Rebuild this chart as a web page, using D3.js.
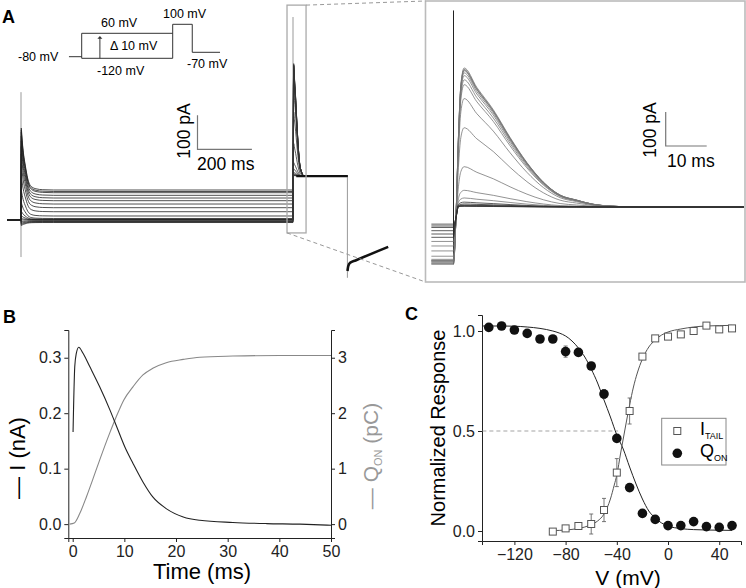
<!DOCTYPE html>
<html><head><meta charset="utf-8">
<script src="https://cdn.jsdelivr.net/npm/d3@7"></script>
<style>body{margin:0;background:#fff} svg{display:block}</style>
</head><body>
<script>
// ================= DATA =================
// Panel A – voltage protocol (schematic)
const protoTimes = [-140, 0, 1000, 1215, 1520];      // ms (schematic)
const protoHold = -80, protoLow = -120, protoHigh = 60, protoTail = 100, protoPost = -70; // mV
// Panel A – test potentials and currents (pA)
const testV   = [-120,-110,-100,-90,-80,-70,-60,-50,-40,-30,-20,-10,0,10,20,30,40,50,60];
const steadyI = [-7.4,-5.9,-4.4,-2.4,0,0.6,0.9,2,4.4,11.8,24.4,36.2,47,56.8,64.7,72.6,80.3,83.8,88.2];
const onPeak  = [-9,-7,-5,-3,0,4,12,24,47,76,106,129,147,159,168,174,178,181,182];
const onT     = [1, 3, 6, 10, 15, 20, 25, 30, 40, 55, 80, 120];          // ms after step
const onF     = [1, 0.88, 0.72, 0.56, 0.42, 0.29, 0.18, 0.11, 0.05, 0.02, 0.005, 0];
// tail at +100 mV
const tailSteady = 129, tailDip = -26, tailAmp = 331;                      // pA
const tailFrac = [1.0,0.99,0.985,0.98,0.965,0.945,0.915,0.88,0.78,0.57,0.29,0.12,0.065,0.035,0.022,0.014,0.01,0.007,0.005];
const tailT   = [1.2, 1.8, 2.6, 5.7, 9.7, 13.8, 17.9, 21.9, 26, 30, 34, 38, 45];
const tailF   = [0.5, 0.88, 1.0, 0.86, 0.70, 0.50, 0.32, 0.18, 0.086, 0.05, 0.02, 0.007, 0];
// -70 mV segment (shared by all traces)
const postT = [1200.3, 1203, 1210, 1230, 1350];
const postI = [-150, -136, -126, -119, -79];
// capacitive artifacts [time, low pA, high pA]
const artifacts = [[0,-109,376],[1000,129,597],[1200,-170,129]];
// zoom window shown in the inset
const zoomWin = {t0: 978, t1: 1048, i0: -38, i1: 632};

// Panel B
const bT = [0.07,0.4,0.7,1.17,2.0,3.3,5.2,7.2,8.5,10.1,11.7,13.6,15.5,18.1,21.4,24.6,31,37.5,44,50];
const bI = [0.166,0.284,0.308,0.319,0.308,0.284,0.248,0.206,0.176,0.139,0.109,0.076,0.049,0.028,0.013,0.007,0.003,0.001,0,-0.002];
const qT = [-0.6,0.3,1.36,2.65,3.94,5.2,7.16,8.45,9.9,11.7,13.6,15.5,18.1,21.4,24.6,31,40,50];
const qV = [0,0.02,0.19,0.49,0.82,1.15,1.64,1.94,2.24,2.48,2.69,2.81,2.91,2.97,3.01,3.03,3.04,3.04];
const bXTicks = [0,10,20,30,40,50];
const bYTicks = [0,0.1,0.2,0.3];
const bY2Ticks = [0,1,2,3];

// Panel C
const qonV   = [-140,-130,-120,-110,-100,-90,-80,-70,-60,-50,-40,-30,-20,-10,0,10,20,30,40,50];
const qonVal = [1.018,1.025,1.005,0.988,0.96,0.96,0.897,0.893,0.825,0.685,0.463,0.217,0.088,0.058,0.027,0.027,0.047,0.022,0.018,0.027];
const qonErr = [0.005,0.005,0.008,0.008,0.006,0.006,0.028,0.012,0.018,0.022,0.015,0.012,0.008,0.01,0.008,0.006,0.012,0.004,0.005,0.006];
const itV    = [-90,-80,-70,-60,-50,-40,-30,-20,-10,0,10,20,30,40,50];
const itVal  = [-0.003,0.013,0.025,0.035,0.105,0.292,0.6,0.872,0.963,0.972,0.983,1.0,1.027,1.008,1.013];
const itErr  = [0.005,0.008,0.01,0.05,0.058,0.07,0.065,0.012,0.008,0.01,0.012,0.008,0.006,0.006,0.006];
const qFitV = [-145,-130,-120,-110,-100,-90,-85,-80,-75,-70,-65,-60,-55,-50,-45,-40,-35,-30,-25,-20,-15,-10,-5,0,10,20,30,40,50];
const qFitY = [1.025,1.025,1.024,1.02,1.013,1.0,0.99,0.975,0.95,0.915,0.87,0.81,0.74,0.655,0.57,0.48,0.41,0.32,0.235,0.16,0.1,0.065,0.04,0.025,0.012,0.007,0.005,0.004,0.003];
const iFitV = [-90,-85,-75,-65,-60,-55,-50,-45,-42,-40,-37,-35,-33,-30,-27,-24,-20,-15,-10,-5,0,10,20,30,50];
const iFitY = [0.002,0.003,0.008,0.02,0.032,0.05,0.085,0.16,0.23,0.28,0.39,0.46,0.53,0.63,0.72,0.79,0.86,0.92,0.955,0.98,0.995,1.01,1.02,1.025,1.028];
const halfV = [-145, -39];
const cXTicks = [-120,-80,-40,0,40];
const cYTicks = [0,0.5,1.0];

// ================= DRAW =================
const FONT = '"Liberation Sans", Arial, Helvetica, sans-serif';
const svg = d3.select("body").append("svg").attr("width",746).attr("height",588)
  .attr("font-family", FONT);

function txt(x,y,s,size,opts={}) {
  const t = svg.append("text").attr("x",x).attr("y",y).attr("font-size",size).text(s);
  for (const k in opts) t.attr(k, opts[k]);
  return t;
}
const bold = {"font-weight":"bold"};
txt(2,23,"A",18,bold);
txt(3,323,"B",18,bold);
txt(405,320,"C",18,bold);

// ---- protocol
const xP = d3.scaleLinear().domain([0,1000]).range([81.7,172.7]);
const yP = d3.scaleLinear().domain([-120,-80,-70,60,100]).range([58.3,56.7,52.3,33.3,24.3]);
const pLine = d3.line().x(d=>xP(d[0])).y(d=>yP(d[1]));
const pg = svg.append("g").attr("fill","none").attr("stroke","#333").attr("stroke-width",1);
pg.append("path").attr("d", pLine([[protoTimes[0],protoHold],[protoTimes[1],protoHold]]));
pg.append("path").attr("d", pLine([[protoTimes[1],protoHigh],[protoTimes[1],protoLow],[protoTimes[2],protoLow]]));
pg.append("path").attr("d", pLine([[protoTimes[1],protoHigh],[protoTimes[2],protoHigh]]));
pg.append("path").attr("d", pLine([[protoTimes[2],protoLow],[protoTimes[2],protoTail],[protoTimes[3],protoTail],[protoTimes[3],protoPost],[protoTimes[4],protoPost]]));
// arrow Δ10 mV
pg.append("path").attr("d", pLine([[200,protoLow],[200,30]]));
svg.append("path").attr("d", `M${xP(200)-2.5},${yP(30)+1} L${xP(200)},${yP(42)} L${xP(200)+2.5},${yP(30)+1}Z`).attr("fill","#333");
const pf = 12.5;
txt(18,61,"-80 mV",pf);
txt(101,27,"60 mV",pf);
txt(163,18,"100 mV",pf);
txt(97,75,"-120 mV",pf);
txt(187,68,"-70 mV",pf);
txt(110,50,"\u0394 10 mV",pf);

// ---- left traces
const xL = d3.scaleLinear().domain([0,1000]).range([21,293]);
const yL = d3.scaleLinear().domain([0,100]).range([220,186]);
const lineL = d3.line().x(d=>xL(d[0])).y(d=>yL(d[1])).curve(d3.curveMonotoneX);

const testTraces = testV.map((v,i)=>[[-51,0],[0,0], ...onT.map((t,k)=>[t, steadyI[i]+onPeak[i]*onF[k]]), [1000, steadyI[i]]]);
const tailPart = (i)=>[[1000.6, tailSteady+tailDip], ...tailT.map((t,k)=>[1000+t, tailSteady+tailAmp*tailFrac[i]*tailF[k]])];
const tailTraces = testV.map((v,i)=>[[1000, steadyI[i]], ...tailPart(i), [1200, tailSteady]]);
const postTrace = postT.map((t,k)=>[t, postI[k]]);

// artifacts (gray)
const ag = svg.append("g").attr("stroke","#999").attr("stroke-width",1);
artifacts.forEach(a=>ag.append("line").attr("x1",xL(a[0])).attr("x2",xL(a[0])).attr("y1",yL(a[1])).attr("y2",yL(a[2])));

const tg = svg.append("g").attr("fill","none");
testTraces.forEach(d=>tg.append("path").attr("d",lineL(d)).attr("stroke","#222").attr("stroke-width",0.8));
tailTraces.forEach(d=>tg.append("path").attr("d",lineL(d)).attr("stroke","#333").attr("stroke-width",0.8));
// plateau at +100 mV and -70 segment (overlapping traces -> thick band)
tg.append("path").attr("d", lineL([[1012,tailSteady],[1200,tailSteady]])).attr("stroke","#111").attr("stroke-width",2.2);
tg.append("path").attr("d", lineL(postTrace)).attr("stroke","#111").attr("stroke-width",2.6);

// zoom box in left panel
const bx0 = xL(zoomWin.t0), bx1 = xL(zoomWin.t1), by0 = yL(zoomWin.i1), by1 = yL(zoomWin.i0);
svg.append("rect").attr("x",bx0).attr("y",by0).attr("width",bx1-bx0).attr("height",by1-by0)
  .attr("fill","none").attr("stroke","#aaa").attr("stroke-width",1.3);

// inset frame
const fr = {x0:425.5, y0:1, x1:745, y1:282};
svg.append("rect").attr("x",fr.x0).attr("y",fr.y0).attr("width",fr.x1-fr.x0).attr("height",fr.y1-fr.y0)
  .attr("fill","none").attr("stroke","#bbb").attr("stroke-width",1.6);
const dg = svg.append("g").attr("stroke","#999").attr("stroke-width",1).attr("stroke-dasharray","4,3");
dg.append("line").attr("x1",bx1).attr("y1",by0).attr("x2",fr.x0).attr("y2",fr.y0);
dg.append("line").attr("x1",bx0).attr("y1",by1).attr("x2",fr.x0).attr("y2",fr.y1);

// inset traces
const xR = d3.scaleLinear().domain([1000,1010]).range([453.5,494.5]);
const yR = d3.scaleLinear().domain([tailSteady, tailSteady+100]).range([207,165]);
const lineR = d3.line().x(d=>xR(d[0])).y(d=>yR(d[1])).curve(d3.curveMonotoneX);
svg.append("clipPath").attr("id","clipR").append("rect").attr("x",fr.x0+1).attr("y",fr.y0+1).attr("width",fr.x1-fr.x0-2).attr("height",fr.y1-fr.y0-2);
const rg = svg.append("g").attr("clip-path","url(#clipR)").attr("fill","none");
rg.append("line").attr("x1",xR(1000)).attr("x2",xR(1000)).attr("y1",yR(d3.min(steadyI))).attr("y2",yR(artifacts[1][2]))
  .attr("stroke","#222").attr("stroke-width",1);
testV.forEach((v,i)=>{
  const d = [[994.6, steadyI[i]],[1000, steadyI[i]], ...tailPart(i), [1072, tailSteady]];
  rg.append("path").attr("d",lineR(d)).attr("stroke", tailFrac[i] < 0.05 ? "#333" : "#777").attr("stroke-width",0.8);
});

// scale bars
const sb = svg.append("g").attr("stroke","#777").attr("stroke-width",1.2).attr("fill","none");
const pA100 = yL(0)-yL(100), ms200 = xL(200)-xL(0), ms10 = xR(1010)-xR(1000);
sb.append("path").attr("d",`M197.5,${149.3-pA100} V149.3 H${197.5+ms200}`);
sb.append("path").attr("d",`M665.7,${146-pA100} V146 H${665.7+ms10}`);
txt(0,0,"100 pA",17.5,{transform:"translate(190,131) rotate(-90)","text-anchor":"middle"});
txt(197,170,"200 ms",17.5);
txt(0,0,"100 pA",17.5,{transform:"translate(656,130) rotate(-90)","text-anchor":"middle"});
txt(667,167,"10 ms",17.5);

// ---- Panel B
const xB = d3.scaleLinear().domain([-0.85,50]).range([68.3,331]);
const yB = d3.scaleLinear().domain([-0.025,0.35]).range([538,330]);
const yB2 = d3.scaleLinear().domain([-0.25,3.5]).range([538,330]);
const axStyle = g=>{g.selectAll("path,line").attr("stroke","#222");g.selectAll("text").attr("font-size",16).attr("font-family",FONT).attr("fill","#222");};
svg.append("g").attr("transform","translate(0,538)").call(d3.axisBottom(xB).tickValues(bXTicks).tickSizeOuter(0).tickSize(4).tickPadding(4)).call(axStyle);
svg.append("g").attr("transform","translate(68.3,0)").call(d3.axisLeft(yB).tickValues(bYTicks).tickFormat(d3.format(".1f")).tickSizeOuter(0).tickSize(4).tickPadding(3)).call(axStyle);
svg.append("g").attr("transform","translate(331,0)").call(d3.axisRight(yB2).tickValues(bY2Ticks).tickFormat(d3.format("d")).tickSizeOuter(0).tickSize(4).tickPadding(3)).call(axStyle);
svg.append("path").attr("d", d3.line().x(d=>xB(d[0])).y(d=>yB2(d[1])).curve(d3.curveMonotoneX)(qT.map((t,k)=>[t,qV[k]])))
  .attr("fill","none").attr("stroke","#888").attr("stroke-width",1.1);
svg.append("path").attr("d", d3.line().x(d=>xB(d[0])).y(d=>yB(d[1])).curve(d3.curveMonotoneX)(bT.map((t,k)=>[t,bI[k]])))
  .attr("fill","none").attr("stroke","#222").attr("stroke-width",1.1);
txt(202,579,"Time (ms)",22,{"text-anchor":"middle"});
txt(0,0,"\u2014  I (nA)",22,{transform:"translate(25,458) rotate(-90)","text-anchor":"middle"});
const ql = txt(0,0,"\u2014  Q",21,{transform:"translate(378,456) rotate(-90)","text-anchor":"middle",fill:"#999"});
ql.append("tspan").attr("font-size",11).attr("dy",4).text("ON");
ql.append("tspan").attr("dy",-4).text(" (pC)");

// ---- Panel C
const xC = d3.scaleLinear().domain([-145.3,57]).range([482,741]);
const yC = d3.scaleLinear().domain([-0.05,1.08]).range([541,315]);
svg.append("g").attr("transform","translate(0,541)").call(d3.axisBottom(xC).tickValues(cXTicks).tickSizeOuter(0).tickSize(4).tickPadding(4)).call(axStyle);
svg.append("g").attr("transform","translate(482,0)").call(d3.axisLeft(yC).tickValues(cYTicks).tickFormat(d3.format(".1f")).tickSizeOuter(0).tickSize(4).tickPadding(3)).call(axStyle);
svg.append("line").attr("x1",xC(halfV[0])).attr("x2",xC(halfV[1])).attr("y1",yC(0.5)).attr("y2",yC(0.5))
  .attr("stroke","#999").attr("stroke-width",0.9).attr("stroke-dasharray","4,3");
const lineC = d3.line().x(d=>xC(d[0])).y(d=>yC(d[1])).curve(d3.curveMonotoneX);
svg.append("path").attr("d",lineC(qFitV.map((v,k)=>[v,qFitY[k]]))).attr("fill","none").attr("stroke","#222").attr("stroke-width",1);
svg.append("path").attr("d",lineC(iFitV.map((v,k)=>[v,iFitY[k]]))).attr("fill","none").attr("stroke","#555").attr("stroke-width",1);
// error bars
const eg = svg.append("g").attr("stroke","#666").attr("stroke-width",0.9);
function errBars(V,Y,E){
  V.forEach((v,k)=>{
    const x=xC(v), y0=yC(Y[k]-E[k]), y1=yC(Y[k]+E[k]);
    eg.append("line").attr("x1",x).attr("x2",x).attr("y1",y0).attr("y2",y1);
    eg.append("line").attr("x1",x-2).attr("x2",x+2).attr("y1",y0).attr("y2",y0);
    eg.append("line").attr("x1",x-2).attr("x2",x+2).attr("y1",y1).attr("y2",y1);
  });
}
errBars(qonV,qonVal,qonErr);
errBars(itV,itVal,itErr);
svg.append("g").selectAll("circle").data(qonV).join("circle")
  .attr("cx",v=>xC(v)).attr("cy",(v,k)=>yC(qonVal[k])).attr("r",4.8).attr("fill","#111");
svg.append("g").selectAll("rect").data(itV).join("rect")
  .attr("x",v=>xC(v)-3.5).attr("y",(v,k)=>yC(itVal[k])-3.5).attr("width",7).attr("height",7)
  .attr("fill","#fff").attr("stroke","#555").attr("stroke-width",1);
txt(0,0,"Normalized Response",20,{transform:"translate(445,428) rotate(-90)","text-anchor":"middle"});
txt(628,585,"V (mV)",21,{"text-anchor":"middle"});
// legend
svg.append("rect").attr("x",661.7).attr("y",418.3).attr("width",64.3).attr("height",46.7).attr("fill","#fff").attr("stroke","#888").attr("stroke-width",1);
svg.append("rect").attr("x",673.8).attr("y",427.5).attr("width",7).attr("height",7).attr("fill","#fff").attr("stroke","#555");
svg.append("circle").attr("cx",677.3).attr("cy",453.3).attr("r",4.8).attr("fill","#111");
const l1 = txt(700,435,"I",18); l1.append("tspan").attr("font-size",9).attr("dy",4).text("TAIL");
const l2 = txt(700,457,"Q",18); l2.append("tspan").attr("font-size",9).attr("dy",4).text("ON");
</script>
</body></html>
